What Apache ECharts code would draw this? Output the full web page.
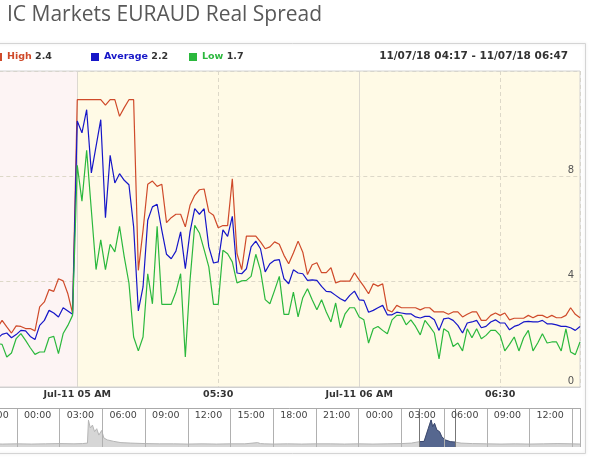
<!DOCTYPE html>
<html>
<head>
<meta charset="utf-8">
<script src="https://cdn.jsdelivr.net/npm/echarts@6/dist/echarts.min.js"></script>
<style>
  html, body { margin: 0; padding: 0; background: #fff; }
  #chart { width: 600px; height: 459px; }
</style>
</head>
<body>
<div id="chart"></div>
<script>
// one sample per minute, first sample at 04:43 (minute -17 from 05:00)
const firstMinute = -17;

const high = [
  2.25, 2.53, 2.28, 2.05, 2.32, 2.30, 2.22, 2.22, 2.13, 3.04, 3.23, 3.70, 3.63, 4.11, 4.03, 3.54, 2.81,
  10.91, 10.91, 10.91, 10.91, 10.91, 10.91, 10.70, 10.91, 10.91, 10.28, 10.61, 10.91, 10.91, 4.43, 5.95,
  7.70, 7.82, 7.62, 7.70, 6.24, 6.43, 6.56, 6.56, 6.08, 6.90, 7.28, 7.49, 7.52, 6.65, 6.52, 6.05, 6.13,
  6.13, 7.91, 5.06, 4.46, 5.73, 5.73, 5.73, 5.51, 5.25, 5.32, 5.51, 5.42, 5.00, 4.68,
  5.09, 5.54, 5.12, 4.27, 4.64, 4.72, 4.34, 4.34, 4.53, 3.95, 4.02, 4.02, 4.02, 4.34, 4.07, 3.82, 3.54,
  3.92, 3.83, 3.92, 2.93, 2.85, 3.10, 3.01, 3.01, 3.01, 3.01, 2.93, 3.01, 3.01, 2.85, 2.85, 2.85, 2.76,
  2.85, 2.85, 2.66, 2.76, 2.85, 2.85, 2.53, 2.53, 2.72, 2.81, 2.72, 2.81, 2.55, 2.61, 2.61, 2.61, 2.72,
  2.63, 2.72, 2.72, 2.63, 2.72, 2.63, 2.63, 2.72, 3.01, 2.76, 2.63
];

const average = [
  1.84, 2.00, 2.05, 1.87, 1.99, 2.15, 2.13, 1.92, 1.80, 2.34, 2.53, 2.91, 2.81, 2.66, 3.01, 2.89, 2.76,
  10.10, 9.65, 10.53, 8.13, 9.14, 10.15, 6.43, 8.80, 7.75, 8.10, 7.85, 7.68, 6.08, 2.89, 3.80,
  6.33, 6.84, 6.94, 5.95, 5.04, 4.87, 5.16, 5.89, 4.49, 5.89, 6.77, 6.56, 6.77, 5.32, 4.71, 4.75, 5.97,
  5.72, 6.48, 4.33, 4.30, 4.49, 5.32, 5.54, 5.25, 4.37, 4.68, 4.81, 4.84, 4.11, 3.92,
  4.45, 4.33, 4.30, 4.05, 4.07, 4.05, 3.82, 3.63, 3.61, 3.48, 3.35, 3.26, 3.48, 3.64, 3.31, 3.29, 2.84,
  2.91, 3.01, 3.10, 2.74, 2.74, 2.84, 2.81, 2.78, 2.78, 2.66, 2.62, 2.68, 2.68, 2.55, 2.15, 2.59, 2.62,
  2.53, 2.34, 2.05, 2.43, 2.47, 2.53, 2.25, 2.30, 2.47, 2.55, 2.43, 2.43, 2.17, 2.30, 2.36, 2.47, 2.49,
  2.47, 2.47, 2.53, 2.40, 2.40, 2.36, 2.30, 2.30, 2.25, 2.15, 2.30
];

const low = [
  1.65, 1.62, 1.14, 1.29, 1.84, 2.03, 1.77, 1.49, 1.24, 1.33, 1.33, 1.87, 1.92, 1.27, 2.03, 2.34, 2.72,
  8.42, 7.06, 8.99, 6.71, 4.46, 5.59, 4.46, 5.42, 5.13, 6.10, 4.94, 3.95, 1.90, 1.37, 1.90,
  4.30, 3.16, 6.10, 3.14, 3.14, 3.14, 3.61, 4.30, 1.14, 4.05, 6.14, 5.85, 5.22, 4.56, 3.14, 3.14, 5.19,
  5.06, 4.75, 3.95, 4.03, 4.05, 4.20, 5.04, 4.43, 3.32, 3.16, 3.67, 4.20, 2.76, 2.76,
  3.60, 2.66, 3.39, 3.73, 3.31, 2.93, 3.31, 2.85, 2.47, 3.19, 2.25, 2.78, 3.01, 3.01, 2.66, 2.55, 1.67,
  2.21, 2.30, 2.15, 2.02, 2.55, 2.72, 2.72, 2.36, 2.55, 2.30, 1.98, 2.53, 2.30, 2.05, 1.07, 2.21, 2.09,
  1.54, 1.67, 1.37, 2.21, 1.87, 2.21, 1.83, 1.96, 2.15, 2.15, 1.96, 1.37, 1.62, 1.90, 1.37, 1.87, 2.15,
  1.37, 1.67, 2.02, 1.67, 1.71, 1.71, 1.37, 2.21, 1.33, 1.23, 1.71
];

// x tick labels, one per 30 minutes starting at 04:30
const mainTickLabels = ['04:30', 'Jul-11 05 AM', '05:30', 'Jul-11 06 AM', '06:30'];

// navigator: hours from Jul-10 00:00
const navHours = [
  -1.8, -1, 0, 1, 2, 3, 4, 4.6, 4.95, 5.02, 5.15, 5.3, 5.45, 5.6, 5.75, 5.95, 6.1, 6.35, 6.8, 7.3,
  8, 9, 10, 11, 12, 13, 14, 15, 16, 16.9, 17.1, 17.4, 18, 19, 20, 21, 22, 23, 24, 25, 26, 27, 27.7,
  28.28, 28.6, 28.9, 29.09, 29.2, 29.33, 29.49, 29.68, 29.84, 30.08, 30.43, 30.78,
  31.2, 32, 33, 34, 35, 36, 37, 38, 39, 39.6
];
const navValues = [
  1.3, 1.2, 1.3, 1.2, 1.3, 1.4, 1.3, 1.4, 1.6, 11, 7.8, 9, 6.3, 7.5, 4.9, 6.8, 3.7, 2.9, 2.3, 1.8,
  1.6, 1.4, 1.3, 1.3, 1.2, 1.3, 1.2, 1.3, 1.3, 1.8, 1.4, 1.3, 1.2, 1.3, 1.2, 1.3, 1.3, 1.2, 1.3, 1.2, 1.3, 1.4, 1.6,
  2.2, 2.3, 7.7, 11.1, 8.3, 9.7, 7.0, 6.3, 4.2, 2.9, 2.2, 2.0,
  1.6, 1.4, 1.3, 1.2, 1.3, 1.2, 1.3, 1.4, 1.3, 1.2
];
const navWindow = [28.28, 30.78];
// labels for ticks every 3 h from -3 h; the last tick (39 h) has no visible label
const navTickLabels = ['21:00', '00:00', '03:00', '06:00', '09:00', '12:00', '15:00', '18:00',
  '21:00', '00:00', '03:00', '06:00', '09:00', '12:00'];

const legendValues = { High: '2.4', Average: '2.2', Low: '1.7' };
const colors = { High: '#cf4a2a', Average: '#1616c8', Low: '#2bb83d' };

const toPairs = arr => arr.map((v, i) => [firstMinute + i, v]);
const navPairs = navHours.map((h, i) => [h, navValues[i]]);
const navSelPairs = navPairs.filter(p => p[0] >= navWindow[0] && p[0] <= navWindow[1]);

const font = 'DejaVu Sans';

function legendItem(name, left) {
  return {
    data: [name],
    left: left,
    top: 51,
    padding: 0,
    icon: 'rect',
    itemWidth: 8,
    itemHeight: 8,
    selectedMode: false,
    formatter: n => '{n|' + n + '} {v|' + legendValues[n] + '}',
    textStyle: {
      rich: {
        n: { color: colors[name], fontWeight: 'bold', fontSize: 9.5, fontFamily: font },
        v: { color: '#333', fontWeight: 'bold', fontSize: 9.5, fontFamily: font }
      }
    }
  };
}

function lineSeries(name, arr) {
  return {
    name: name,
    type: 'line',
    data: toPairs(arr),
    showSymbol: false,
    symbol: 'none',
    animation: false,
    z: 10,
    lineStyle: { color: colors[name], width: 1.2 },
    itemStyle: { color: colors[name] }
  };
}

const chart = echarts.init(document.getElementById('chart'), null, { renderer: 'canvas' });

chart.setOption({
  animation: false,
  backgroundColor: '#fff',
  title: [
    {
      text: 'IC Markets EURAUD Real Spread',
      left: 7, top: 5, padding: 0,
      textStyle: { fontFamily: 'Open Sans', fontSize: 21, fontWeight: 'normal', color: '#585858' }
    },
    {
      text: '11/07/18 04:17 - 11/07/18 06:47',
      right: 32, top: 51, padding: 0,
      textStyle: { fontFamily: font, fontSize: 10.5, fontWeight: 'bold', color: '#333' }
    }
  ],
  legend: [legendItem('High', -6), legendItem('Average', 91), legendItem('Low', 189)],
  graphic: [
    {
      type: 'rect',
      shape: { x: -10, y: 43.5, width: 595.5, height: 410 },
      style: { fill: 'none', stroke: '#d4d4d4', lineWidth: 1, shadowBlur: 3, shadowColor: 'rgba(0,0,0,0.12)' },
      z: -10, silent: true
    }
  ],
  grid: [
    { left: -63.7, right: 20, top: 71, height: 316, outerBoundsMode: 'none', containLabel: false,
      show: true, z: 6, backgroundColor: 'transparent', borderColor: '#d2d2d2', borderWidth: 1 },
    { left: -25.7, right: 20, top: 408, height: 39, outerBoundsMode: 'none', containLabel: false }
  ],
  xAxis: [
    {
      type: 'value', gridIndex: 0, min: -30, max: 107, interval: 30, z: 5,
      axisLine: { show: true, lineStyle: { color: '#ccc' } },
      axisTick: { show: false },
      axisLabel: {
        margin: 3, fontFamily: font, fontSize: 9.5, fontWeight: 'bold', color: '#333',
        showMaxLabel: false,
        formatter: v => (v % 30 === 0 ? mainTickLabels[(v + 30) / 30] || '' : '')
      },
      splitLine: { show: true, lineStyle: { color: '#ddd8c8', type: [4, 3], width: 1 } }
    },
    {
      type: 'value', gridIndex: 1, position: 'top', min: -3, max: 39.55, interval: 3, z: 5,
      axisLine: { show: true, onZero: false, lineStyle: { color: '#aaa' } },
      axisTick: { show: false },
      axisLabel: {
        inside: true, margin: 3, align: 'left', padding: [0, 0, 0, 7],
        fontFamily: font, fontSize: 9.5, color: '#444',
        showMaxLabel: false,
        formatter: v => (v % 3 === 0 ? navTickLabels[(v + 3) / 3] || '' : '')
      },
      splitLine: { show: true, lineStyle: { color: '#b0b0b0', width: 1 } }
    }
  ],
  yAxis: [
    {
      type: 'value', gridIndex: 0, position: 'right', min: 0, max: 12, interval: 4, z: 5,
      axisLine: { show: false }, axisTick: { show: false },
      axisLabel: {
        inside: true, margin: 6, verticalAlign: 'bottom', padding: [0, 0, 1, 0],
        fontFamily: font, fontSize: 10, color: '#555', showMaxLabel: false
      },
      splitLine: { show: true, lineStyle: { color: '#ddd8c8', type: [4, 3], width: 1 } }
    },
    {
      type: 'value', gridIndex: 1, min: 0, max: 16, show: false,
      splitLine: { show: false }
    }
  ],
  series: [
    {
      // plot bands and hour lines
      type: 'line', xAxisIndex: 0, yAxisIndex: 0, data: [], z: 1, silent: true,
      markArea: {
        silent: true,
        label: { show: false },
        data: [
          [{ xAxis: -30, itemStyle: { color: '#fdf4f4' } }, { xAxis: 0 }],
          [{ xAxis: 0, itemStyle: { color: '#fffae6' } }, { xAxis: 107 }]
        ]
      },
      markLine: {
        silent: true, symbol: 'none', label: { show: false },
        lineStyle: { color: '#dcd8d0', type: 'solid', width: 1 },
        data: [{ xAxis: 0 }, { xAxis: 60 }]
      }
    },
    lineSeries('High', high),
    lineSeries('Average', average),
    lineSeries('Low', low),
    {
      type: 'line', xAxisIndex: 1, yAxisIndex: 1, data: navPairs,
      showSymbol: false, symbol: 'none', silent: true,
      lineStyle: { color: '#b5b5b5', width: 1 },
      areaStyle: { color: '#d6d6d6', opacity: 1 }
    },
    {
      type: 'line', xAxisIndex: 1, yAxisIndex: 1, data: navSelPairs,
      showSymbol: false, symbol: 'none', silent: true, z: 4,
      lineStyle: { color: '#3a4870', width: 1 },
      areaStyle: { color: '#56678f', opacity: 1 },
      markLine: {
        silent: true, symbol: 'none', label: { show: false },
        lineStyle: { color: '#777', type: 'solid', width: 1 },
        data: [{ xAxis: navWindow[0] }, { xAxis: navWindow[1] }]
      }
    }
  ]
});
</script>
</body>
</html>
